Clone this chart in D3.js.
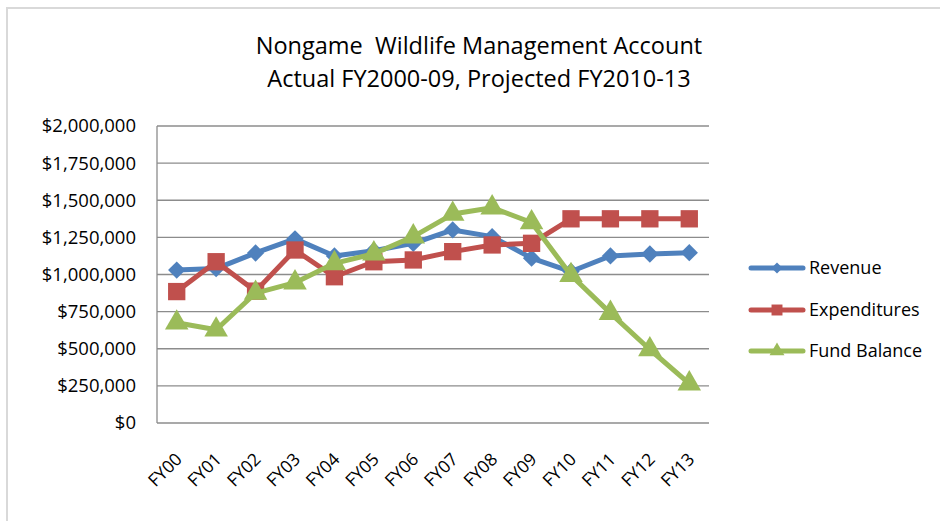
<!DOCTYPE html>
<html>
<head>
<meta charset="utf-8">
<script src="https://cdn.jsdelivr.net/npm/d3@7"></script>
<style>
  body { margin: 0; background: #fff; }
  text { font-family: "Open Sans", "Noto Sans", sans-serif; fill: #000; }
</style>
</head>
<body>
<div id="chart"></div>
<script>
var years = ["FY00","FY01","FY02","FY03","FY04","FY05","FY06","FY07","FY08","FY09","FY10","FY11","FY12","FY13"];
var revenue = [1030000,1040000,1145000,1240000,1125000,1160000,1210000,1300000,1255000,1110000,1020000,1125000,1138000,1147000];
var expenditures = [885000,1086000,888000,1165000,985000,1086000,1098000,1154000,1199000,1210000,1375000,1375000,1375000,1375000];
var fundBalance = [675000,628000,875000,945000,1075000,1140000,1255000,1407000,1450000,1350000,995000,740000,495000,265000];
var yTicks = [0,250000,500000,750000,1000000,1250000,1500000,1750000,2000000];
var seriesNames = ["Revenue","Expenditures","Fund Balance"];
var colors = ["#4F81BD","#C0504D","#9BBB59"];

var width = 940, height = 521
var plot = {left: 157, right: 709, top: 126, bottom: 423}

var svg = d3.select("#chart").append("svg")
    .attr("width", width)
    .attr("height", height)

// chart area border (only top/left visible in original)
svg.append("path")
    .attr("d", "M7,521V8H940")
    .attr("fill", "none")
    .attr("stroke", "#d9d9d9")
    .attr("stroke-width", 2)

// title
svg.append("text").attr("x", 479).attr("y", 54).attr("text-anchor", "middle")
    .style("font-size", "23.5px").style("white-space", "pre")
    .text("Nongame  Wildlife Management Account")
svg.append("text").attr("x", 479).attr("y", 87).attr("text-anchor", "middle")
    .style("font-size", "23.5px").text("Actual FY2000-09, Projected FY2010-13")

var x = d3.scaleBand().domain(years).range([plot.left, plot.right])
var y = d3.scaleLinear().domain([0, 2000000]).range([plot.bottom, plot.top])

// gridlines
svg.append("g").selectAll("line")
    .data(yTicks)
    .enter().append("line")
    .attr("x1", plot.left).attr("x2", plot.right)
    .attr("y1", function(d){ return y(d) }).attr("y2", function(d){ return y(d) })
    .attr("stroke", "#8c8c8c").attr("stroke-width", 1.3)

// y axis line
svg.append("line")
    .attr("x1", plot.left).attr("x2", plot.left)
    .attr("y1", plot.top).attr("y2", plot.bottom)
    .attr("stroke", "#8c8c8c").attr("stroke-width", 1.3)

var fmt = d3.format("$,")
svg.append("g").selectAll("text")
    .data(yTicks)
    .enter().append("text")
    .attr("x", 136)
    .attr("y", function(d){ return y(d) })
    .attr("dy", "0.35em")
    .attr("text-anchor", "end")
    .style("font-size", "18.5px")
    .text(function(d){ return fmt(d) })

// x labels, rotated
svg.append("g").selectAll("text")
    .data(years)
    .enter().append("text")
    .attr("transform", function(d){
        return "translate(" + (x(d) + x.bandwidth()/2 + 2) + "," + 456 + ") rotate(-45)"
    })
    .attr("text-anchor", "end")
    .attr("dy", "0.35em")
    .style("font-size", "17.5px")
    .text(function(d){ return d })

var allSeries = [revenue, expenditures, fundBalance]
// diamond = square turned 45deg
var symbols = [d3.symbolSquare, d3.symbolSquare, d3.symbolTriangle]
var sizes = [150, 300, 240]
var rot = [45, 0, 0]

var line = d3.line()
    .x(function(d,i){ return x(years[i]) + x.bandwidth()/2 })
    .y(function(d){ return y(d) })

allSeries.forEach(function(vals, s){
    svg.append("path")
        .datum(vals)
        .attr("d", line)
        .attr("fill", "none")
        .attr("stroke", colors[s])
        .attr("stroke-width", 5)
        .attr("stroke-linejoin", "round")
        .attr("stroke-linecap", "round")
    svg.append("g").selectAll("path")
        .data(vals)
        .enter().append("path")
        .attr("transform", function(d,i){
            return "translate(" + (x(years[i]) + x.bandwidth()/2) + "," + y(d) + ") rotate(" + rot[s] + ")"
        })
        .attr("d", d3.symbol().type(symbols[s]).size(sizes[s]))
        .attr("fill", colors[s])
})

// legend
var legY = [268, 310, 351]
seriesNames.forEach(function(name, s){
    var g = svg.append("g")
    g.append("line")
        .attr("x1", 751).attr("x2", 803)
        .attr("y1", legY[s]).attr("y2", legY[s])
        .attr("stroke", colors[s]).attr("stroke-width", 5)
        .attr("stroke-linecap", "round")
    g.append("path")
        .attr("transform", "translate(777," + legY[s] + ") rotate(" + rot[s] + ")")
        .attr("d", d3.symbol().type(symbols[s]).size(sizes[s] * 0.4))
        .attr("fill", colors[s])
    g.append("text")
        .attr("x", 809).attr("y", legY[s])
        .attr("dy", "0.35em")
        .style("font-size", "18px")
        .text(name)
})
</script>
</body>
</html>
